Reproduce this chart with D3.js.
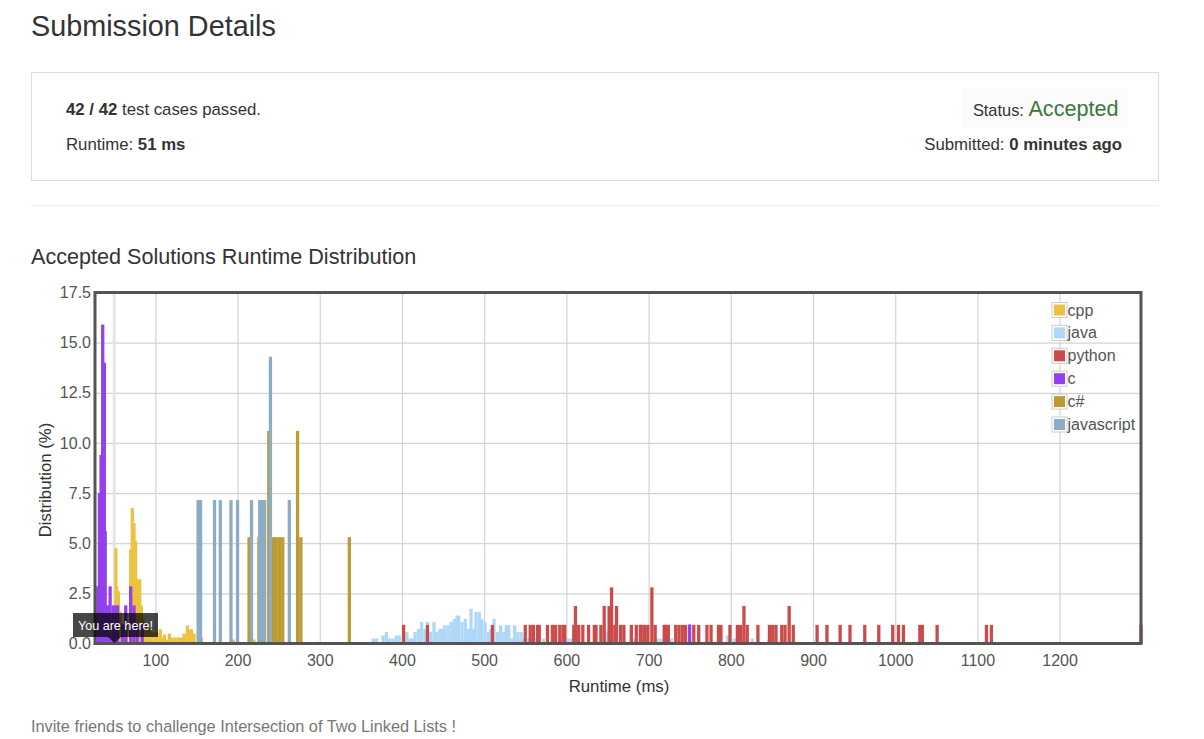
<!DOCTYPE html>
<html>
<head>
<meta charset="utf-8">
<title>Submission Details</title>
<script src="https://cdn.jsdelivr.net/npm/d3@7"></script>
<style>
  html, body { margin: 0; padding: 0; background: #fff; }
  body { width: 1204px; height: 739px; overflow: hidden; position: relative; }
  svg { position: absolute; left: 0; top: 0; }
  text { font-family: "Liberation Sans", Arial, sans-serif; }
</style>
</head>
<body>
<svg id="chart" width="1204" height="739"></svg>
<script>
// values: bar start (ms) and share (%)
var languages = ["cpp", "java", "python", "c", "c#", "javascript"];
var colors = ["#edc240", "#afd8f8", "#cb4b4b", "#9440ed", "#bd9b33", "#8cacc6"];

var cppMs = [50,51,53,55,57,63,68,70,72,74,76,79,81,83,86,89,91,94,98,100,104,106,109,112,115,118,122,126,130,133,137,140,142,145,154,193,218];
var cppPct = [4.75,2.85,2.6,1.6,0.95,0.95,4.7,6.75,6.0,5.1,3.2,3.2,1.9,1.3,1.0,0.75,0.75,0.55,0.55,0.55,0.7,0.3,0.45,0.2,0.5,0.3,0.3,0.3,0.3,0.5,0.9,0.7,0.7,0.5,0.3,0.2,0.2];

var javaMs = [363,367,375,379,383,387,391,395,400,404,408,411,414,418,422,426,429,433,437,440,444,447,450,454,458,462,465,467,471,475,479,482,485,488,492,495,499,503,506,510,514,518,522,525,528,532,535,539,543,547,551,555,560,570,582,600,604,647,681,709,713,726,794,802,824,844];
var javaPct = [0.25,0.25,0.4,0.58,0.25,0.25,0.4,0.4,0.4,0.58,0.25,0.25,0.58,0.73,1.08,0.73,1.08,0.58,1.08,0.58,0.73,0.73,0.91,0.91,1.08,1.23,1.39,1.39,1.08,1.23,0.73,1.73,0.73,1.58,1.58,1.23,1.08,0.58,0.73,1.23,0.58,0.91,0.58,0.91,0.91,0.25,0.91,0.58,0.58,0.25,0.25,0.25,0.25,0.25,0.25,0.25,0.25,0.6,0.25,0.25,0.25,0.25,0.4,0.25,0.25,0.2];

var pythonMs = [400,429,508,548,554,558,563,565,575,581,585,590,594,596,607,609,613,618,625,632,634,640,644,650,653,657,659,664,668,677,683,688,689,693,697,702,706,717,719,722,731,735,739,743,753,759,769,774,783,786,797,806,810,814,818,831,845,849,853,860,864,869,874,903,915,931,943,961,978,995,1002,1008,1028,1031,1049,1109,1115,1297];
var pythonPct = [0.93,0.93,0.93,0.93,0.93,0.93,0.93,0.93,0.93,0.93,0.93,0.93,0.93,0.93,0.93,1.87,0.93,0.93,0.93,0.93,0.93,0.93,1.87,1.87,2.8,0.93,1.87,0.93,0.93,0.93,0.93,0.93,0.93,0.93,0.93,2.8,0.93,0.93,0.93,0.93,0.93,0.93,0.93,0.93,0.93,0.93,0.93,0.93,0.93,0.93,0.93,0.93,0.93,1.87,0.93,0.93,0.93,0.93,0.93,0.93,0.93,1.87,0.93,0.93,0.93,0.93,0.93,0.93,0.93,0.93,0.93,0.93,0.93,0.93,0.93,0.93,0.93,0.93];

var cMs = [28,30,32,34,36,37,38,41,43,47,51,52,58,62,68,72,76,82,748];
var cPct = [2.85,7.5,9.4,15.9,14.0,5.6,1.9,1.9,2.85,1.9,1.9,1.9,0.95,1.9,2.85,1.9,0.95,0.95,0.95];

var csharpMs = [212,224,227,236,240,243,245,249,253,271,275,334];
var csharpPct = [5.3,5.3,5.3,10.6,5.3,5.3,5.3,5.3,5.3,10.6,5.3,5.3];

var jsMs = [150,153,170,177,190,198,215,225,228,231,238,261];
var jsPct = [7.15,7.15,7.15,7.15,7.15,7.15,7.15,7.15,7.15,7.15,14.3,7.15];

var seriesMs = [cppMs, javaMs, pythonMs, cMs, csharpMs, jsMs];
var seriesPct = [cppPct, javaPct, pythonPct, cPct, csharpPct, jsPct];

var xTicks = [100,200,300,400,500,600,700,800,900,1000,1100,1200];
var yTicks = [0,2.5,5,7.5,10,12.5,15,17.5];
var barWidth = 4;
var myRuntime = 50;

var svg = d3.select("#chart");
var textColor = "#333";
var baseFont = 16.8;

// page text around the chart
svg.append("text").attr("x", 31).attr("y", 36).attr("font-size", 28.8).attr("fill", textColor).text("Submission Details");
svg.append("rect").attr("x", 31.5).attr("y", 72.5).attr("width", 1127).attr("height", 108).attr("fill", "#fff").attr("stroke", "#ddd");

var passedText = svg.append("text").attr("x", 66).attr("y", 115).attr("font-size", baseFont).attr("fill", textColor);
passedText.append("tspan").attr("font-weight", "bold").text("42 / 42");
passedText.append("tspan").text(" test cases passed.");

var runtimeText = svg.append("text").attr("x", 66).attr("y", 150).attr("font-size", baseFont).attr("fill", textColor);
runtimeText.append("tspan").text("Runtime: ");
runtimeText.append("tspan").attr("font-weight", "bold").text("51 ms");

svg.append("rect").attr("x", 962).attr("y", 88).attr("width", 166).attr("height", 40).attr("fill", "#fbfbfb");
var statusText = svg.append("text").attr("x", 1118.5).attr("y", 116).attr("text-anchor", "end").attr("font-size", 16.4).attr("fill", textColor);
statusText.append("tspan").text("Status: ");
statusText.append("tspan").attr("font-size", 21.6).attr("fill", "#3c763d").text("Accepted");

var submittedText = svg.append("text").attr("x", 1122).attr("y", 150).attr("text-anchor", "end").attr("font-size", baseFont).attr("fill", textColor);
submittedText.append("tspan").text("Submitted: ");
submittedText.append("tspan").attr("font-weight", "bold").text("0 minutes ago");

svg.append("line").attr("x1", 31).attr("x2", 1159).attr("y1", 205.5).attr("y2", 205.5).attr("stroke", "#eee");
svg.append("text").attr("x", 31).attr("y", 263.5).attr("font-size", 21.6).attr("fill", textColor).text("Accepted Solutions Runtime Distribution");
svg.append("text").attr("x", 31).attr("y", 732).attr("font-size", 16.3).attr("fill", "#777").text("Invite friends to challenge Intersection of Two Linked Lists !");

// plot area
var plotLeft = 95, plotRight = 1141, plotTop = 292.5, plotBottom = 643.5;
var x = d3.scaleLinear().domain([26.6, 1299]).range([plotLeft, plotRight]);
var y = d3.scaleLinear().domain([0, 17.5]).range([plotBottom, plotTop]);

var grid = svg.append("g");
grid.append("g").attr("transform", "translate(0," + plotBottom + ")")
  .call(d3.axisBottom(x).tickValues(xTicks).tickSize(plotTop - plotBottom).tickFormat(""));
grid.append("g").attr("transform", "translate(" + plotLeft + ",0)")
  .call(d3.axisLeft(y).tickValues(yTicks).tickSize(plotLeft - plotRight).tickFormat(""));
grid.selectAll(".domain").remove();
grid.selectAll("line").attr("stroke", "#d4d4d4").attr("stroke-width", 1.2);

// highlight for this submission's runtime
svg.append("rect").attr("x", x(myRuntime) - 1.5).attr("y", plotTop).attr("width", 3).attr("height", plotBottom - plotTop).attr("fill", "#e4e4e4");

languages.forEach(function(name, i) {
  var rows = d3.zip(seriesMs[i], seriesPct[i]);
  svg.append("g").selectAll("rect").data(rows).enter().append("rect")
    .attr("x", function(d) { return x(d[0]); })
    .attr("width", function(d) { return x(d[0] + barWidth) - x(d[0]); })
    .attr("y", function(d) { return y(d[1]); })
    .attr("height", function(d) { return plotBottom - y(d[1]); })
    .attr("fill", colors[i]);
});

// axes
var xAxis = svg.append("g").attr("transform", "translate(0," + plotBottom + ")")
  .call(d3.axisBottom(x).tickValues(xTicks).tickSize(0).tickPadding(11).tickFormat(d3.format("d")));
var yAxis = svg.append("g").attr("transform", "translate(" + plotLeft + ",0)")
  .call(d3.axisLeft(y).tickValues(yTicks).tickSize(0).tickPadding(4).tickFormat(d3.format(".1f")));
xAxis.select(".domain").remove();
yAxis.select(".domain").remove();
xAxis.selectAll("text").attr("font-size", 16).attr("fill", "#545454").attr("font-family", "Liberation Sans");
yAxis.selectAll("text").attr("font-size", 16).attr("fill", "#545454").attr("font-family", "Liberation Sans");

svg.append("rect").attr("x", plotLeft).attr("y", plotTop).attr("width", plotRight - plotLeft).attr("height", plotBottom - plotTop)
  .attr("fill", "none").attr("stroke", "#545454").attr("stroke-width", 3);

svg.append("text").attr("x", 619).attr("y", 692).attr("text-anchor", "middle").attr("font-size", baseFont).attr("fill", textColor).text("Runtime (ms)");
svg.append("text").attr("transform", "translate(51,480) rotate(-90)").attr("text-anchor", "middle").attr("font-size", baseFont).attr("fill", textColor).text("Distribution (%)");

// legend
var legend = svg.append("g").selectAll("g").data(languages).enter().append("g")
  .attr("transform", function(d, i) { return "translate(1052," + (302.5 + i * 22.9) + ")"; });
legend.append("rect").attr("width", 15).attr("height", 15).attr("fill", "#fff").attr("stroke", "#ccc");
legend.append("rect").attr("x", 2).attr("y", 2).attr("width", 11).attr("height", 11)
  .attr("fill", function(d, i) { return colors[i]; });
legend.append("text").attr("x", 15.5).attr("y", 13).attr("font-size", 16).attr("fill", "#545454").text(function(d) { return d; });

// tooltip
var tip = svg.append("g");
tip.append("rect").attr("x", 73).attr("y", 613).attr("width", 85).attr("height", 24).attr("fill", "#000").attr("fill-opacity", 0.72);
tip.append("path").attr("d", "M108,637L114.5,643L121,637Z").attr("fill", "#000").attr("fill-opacity", 0.72);
tip.append("text").attr("x", 115.5).attr("y", 629.5).attr("text-anchor", "middle").attr("font-size", 12.6).attr("fill", "#fff").text("You are here!");
</script>
</body>
</html>
